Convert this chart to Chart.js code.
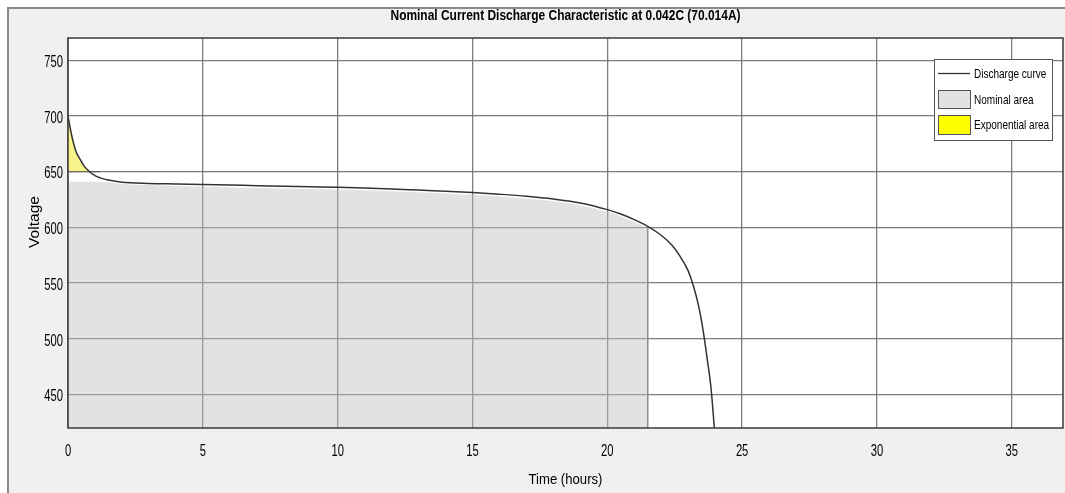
<!DOCTYPE html>
<html>
<head>
<meta charset="utf-8">
<script src="https://cdn.jsdelivr.net/npm/chart.js@4.4.1/dist/chart.umd.min.js"></script>
<style>
  html, body { margin: 0; padding: 0; background: #fff; }
  #frame {
    position: absolute; left: 7px; top: 7px; width: 1058px; height: 486px;
    background: #f0f0f0; border-left: 2px solid #8a8a8a; border-top: 2px solid #8a8a8a;
  }
  #chart { position: absolute; left: 0; top: 0; }
</style>
</head>
<body>
<div id="frame"></div>
<canvas id="chart" width="1065" height="493"></canvas>
<script>
// ---------------- data ----------------
const timeHours = [0, 0.1, 0.2, 0.3, 0.45, 0.6, 0.8, 1.0, 1.2, 1.5, 2, 3, 4, 5, 6, 7, 8, 9, 10, 11, 12, 13, 14, 15, 16, 17, 18, 19, 20, 20.5, 21, 21.5, 22, 22.4, 22.7, 23.0, 23.2, 23.4, 23.55, 23.7, 23.85, 23.97];
const voltage   = [700, 687, 676, 668, 661, 655, 650, 646.5, 644.5, 642.5, 640.5, 639.5, 639, 638.5, 638, 637.5, 637, 636.5, 636, 635.3, 634.5, 633.5, 632.5, 631.3, 629.8, 628, 625.5, 622, 616, 612, 607, 601, 593, 584, 574, 561, 547, 528, 508, 483, 455, 420];

const nominalTime = [0, 1.2, 1.5, 2, 3, 5, 8, 10, 12, 14, 15, 16, 17, 18, 19, 20, 20.5, 21, 21.5];
const nominalVolt = [641, 641, 640.5, 639, 638, 636.5, 635, 634, 632.5, 630.5, 629.3, 627.8, 626, 623.5, 620, 614, 610, 605, 599];
const nominalEndTime = 21.5;

const expTime = [0, 0.1, 0.2, 0.3, 0.45, 0.6, 0.8];
const expVolt = [700, 687, 676, 668, 661, 655, 650];
const expBaseVolt = 650;
const expBaseTime = [0, 1.2];

const xTicks = [0, 5, 10, 15, 20, 25, 30, 35];
const yTicks = [450, 500, 550, 600, 650, 700, 750];
const xRange = [0, 36.9];
const yRange = [420, 770];

const titleText = "Nominal Current Discharge Characteristic at 0.042C (70.014A)";
const xTitle = "Time (hours)";
const yTitle = "Voltage";
const legendLabels = ["Discharge curve", "Nominal area", "Exponential area"];

// -----------------------------------------------------------
const sans = "'Liberation Sans', Arial, sans-serif";
const pts = (xs, ys) => xs.map((x, i) => ({ x: x, y: ys[i] }));

// draws text squeezed horizontally, like the narrow font of the original
function squeezed(ctx, text, x, y, font, opts) {
  ctx.save();
  ctx.font = font;
  ctx.textBaseline = 'middle';
  const w = ctx.measureText(text).width;
  const sx = opts.width ? opts.width / w : (opts.sx || 1);
  ctx.translate(x, y);
  if (opts.rotate) ctx.rotate(opts.rotate);
  ctx.scale(sx, 1);
  ctx.textAlign = opts.align || 'center';
  ctx.fillStyle = '#000';
  ctx.fillText(text, 0, 0);
  ctx.restore();
}

const decorations = {
  id: 'decorations',
  beforeDraw(chart) {
    const { ctx, chartArea: a } = chart;
    ctx.save();
    ctx.fillStyle = '#ffffff';
    ctx.fillRect(a.left, a.top, a.right - a.left, a.bottom - a.top);
    ctx.restore();
  },
  afterDraw(chart) {
    const { ctx, chartArea: a, scales } = chart;
    ctx.save();
    // axes box
    ctx.strokeStyle = '#3a3a3a';
    ctx.lineWidth = 1.5;
    ctx.strokeRect(a.left, a.top, a.right - a.left, a.bottom - a.top);
    ctx.restore();

    // tick labels
    xTicks.forEach(v => squeezed(ctx, String(v), scales.x.getPixelForValue(v), 451, "17px " + sans, { sx: 0.66 }));
    yTicks.forEach(v => squeezed(ctx, String(v), 63, scales.y.getPixelForValue(v) + 2, "17px " + sans, { sx: 0.66, align: 'right' }));

    // titles
    squeezed(ctx, titleText, (a.left + a.right) / 2, 16, "bold 15px " + sans, { width: 350 });
    squeezed(ctx, xTitle, (a.left + a.right) / 2, 480, "15px " + sans, { width: 74 });
    squeezed(ctx, yTitle, 35, 222, "14px " + sans, { width: 52, rotate: -Math.PI / 2 });

    // legend
    ctx.save();
    const lx = 934, ly = 59, lw = 118, lh = 81;
    ctx.fillStyle = '#fff';
    ctx.fillRect(lx, ly, lw, lh);
    ctx.strokeStyle = '#555';
    ctx.lineWidth = 1;
    ctx.strokeRect(lx + 0.5, ly + 0.5, lw, lh);

    ctx.strokeStyle = '#333';
    ctx.lineWidth = 1.3;
    ctx.beginPath(); ctx.moveTo(938, 73.5); ctx.lineTo(970, 73.5); ctx.stroke();

    ctx.lineWidth = 1;
    ctx.fillStyle = '#e2e2e2';
    ctx.fillRect(938, 90, 32, 18);
    ctx.strokeStyle = '#555';
    ctx.strokeRect(938.5, 90.5, 32, 18);

    ctx.fillStyle = '#ffff00';
    ctx.fillRect(938, 115, 32, 19);
    ctx.strokeRect(938.5, 115.5, 32, 19);
    ctx.restore();

    squeezed(ctx, legendLabels[0], 974, 74, "13px " + sans, { sx: 0.77, align: 'left' });
    squeezed(ctx, legendLabels[1], 974, 100, "13px " + sans, { sx: 0.77, align: 'left' });
    squeezed(ctx, legendLabels[2], 974, 125, "13px " + sans, { sx: 0.77, align: 'left' });
  }
};

new Chart(document.getElementById('chart'), {
  type: 'line',
  data: {
    datasets: [
      {
        label: legendLabels[0],
        data: pts(timeHours, voltage),
        borderColor: '#333333',
        borderWidth: 1.5,
        pointRadius: 0,
        cubicInterpolationMode: 'monotone',
        fill: false
      },
      {
        label: 'exp base',
        data: expBaseTime.map(t => ({ x: t, y: expBaseVolt })),
        borderColor: '#555555',
        borderWidth: 1,
        pointRadius: 0,
        fill: false
      },
      {
        label: legendLabels[2],
        data: pts(expTime, expVolt),
        borderWidth: 0,
        borderColor: 'rgba(0,0,0,0)',
        backgroundColor: '#f8f48c',
        pointRadius: 0,
        cubicInterpolationMode: 'monotone',
        fill: { value: expBaseVolt }
      },
      {
        label: 'nominal edge',
        data: [{ x: nominalEndTime, y: yRange[0] }, { x: nominalEndTime, y: nominalVolt[nominalVolt.length - 1] }],
        borderColor: '#8c8c8c',
        borderWidth: 1.5,
        pointRadius: 0,
        fill: false
      },
      {
        label: legendLabels[1],
        data: pts(nominalTime, nominalVolt),
        borderWidth: 0,
        borderColor: 'rgba(0,0,0,0)',
        backgroundColor: 'rgba(190,190,190,0.45)',
        pointRadius: 0,
        cubicInterpolationMode: 'monotone',
        fill: 'start'
      }
    ]
  },
  options: {
    responsive: false,
    animation: false,
    layout: { padding: { top: 38, right: 2, left: 0, bottom: 0 } },
    plugins: {
      legend: { display: false },
      title: { display: false },
      tooltip: { enabled: false }
    },
    scales: {
      x: {
        type: 'linear',
        min: xRange[0],
        max: xRange[1],
        afterBuildTicks: s => { s.ticks = xTicks.map(v => ({ value: v })); },
        afterFit: s => { s.height = 65; },
        grid: { color: '#7d7d7d', lineWidth: 1.3, drawTicks: false },
        border: { display: false },
        ticks: { display: false }
      },
      y: {
        min: yRange[0],
        max: yRange[1],
        afterBuildTicks: s => { s.ticks = yTicks.map(v => ({ value: v })); },
        afterFit: s => { s.width = 68; },
        grid: { color: '#7d7d7d', lineWidth: 1.3, drawTicks: false },
        border: { display: false },
        ticks: { display: false }
      }
    }
  },
  plugins: [decorations]
});
</script>
</body>
</html>
